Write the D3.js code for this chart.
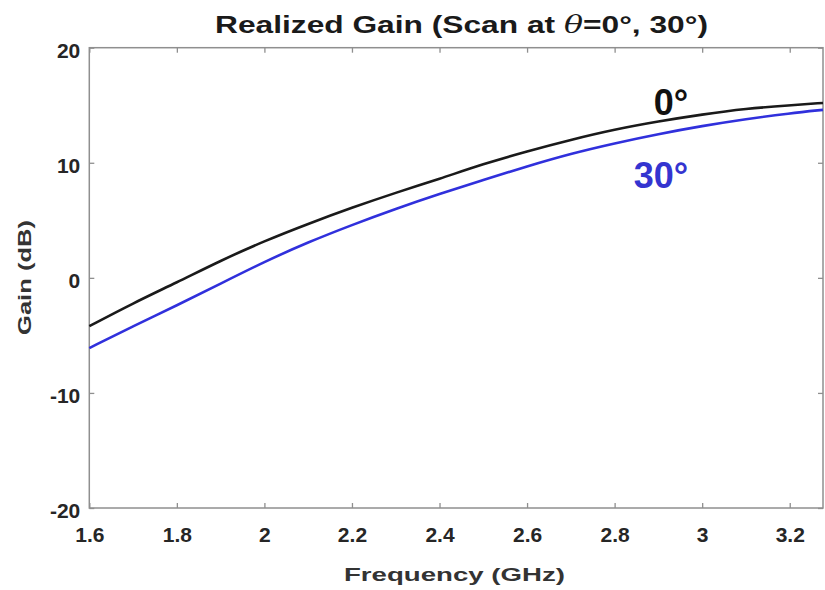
<!DOCTYPE html>
<html>
<head>
<meta charset="utf-8">
<script src="https://cdn.jsdelivr.net/npm/d3@7"></script>
<style>
  html, body { margin: 0; padding: 0; background: #fff; }
  svg { display: block; }
  text { font-family: "Liberation Sans", Arial, sans-serif; }
</style>
</head>
<body>
<svg id="chart" width="825" height="590"></svg>
<script>
// ---- data ----
const freq      = [1.6, 1.7, 1.8, 1.9, 2.0, 2.1, 2.2, 2.3, 2.4, 2.5, 2.6, 2.7, 2.8, 2.9, 3.0, 3.1, 3.2, 3.276];
const gain0deg  = [-4.2, -2.2, -0.4, 1.5, 3.2, 4.7, 6.1, 7.4, 8.6, 9.9, 11.0, 12.0, 12.9, 13.6, 14.2, 14.7, 15.0, 15.2];
const gain30deg = [-6.1, -4.2, -2.4, -0.5, 1.4, 3.1, 4.6, 6.0, 7.3, 8.5, 9.7, 10.8, 11.7, 12.5, 13.2, 13.8, 14.3, 14.6];
const xTicks = [1.6, 1.8, 2.0, 2.2, 2.4, 2.6, 2.8, 3.0, 3.2];
const xTickLabels = ["1.6", "1.8", "2", "2.2", "2.4", "2.6", "2.8", "3", "3.2"];
const yTicks = [-20, -10, 0, 10, 20];
const yTickLabels = ["-20", "-10", "0", "10", "20"];
const xDomain = [1.6, 3.276];
const yDomain = [-20, 20];
const xLabel = "Frequency (GHz)";
const yLabel = "Gain (dB)";
const seriesNames = ["0\u00B0", "30\u00B0"];

// ---- layout ----
const svg = d3.select("#chart");
const L = 89.3, R = 823, T = 47.7, B = 508;
const x = d3.scaleLinear().domain(xDomain).range([L, R]);
const y = d3.scaleLinear().domain(yDomain).range([B, T]);
const axisColor = "#8f8f8f";

// box
svg.append("rect").attr("x", L).attr("y", T).attr("width", R - L).attr("height", B - T)
  .attr("fill", "none").attr("stroke", axisColor).attr("stroke-width", 1.5);

function styleAxis(g) {
  g.select(".domain").remove();
  g.selectAll(".tick line").attr("stroke", axisColor).attr("stroke-width", 1.3);
  g.selectAll(".tick text").attr("fill", "#262626").attr("font-size", 21).attr("font-weight", "bold");
}

const xAxis = svg.append("g").attr("transform", `translate(0,${B})`)
  .call(d3.axisBottom(x).tickValues(xTicks).tickFormat((d, i) => xTickLabels[i])
        .tickSizeInner(-5).tickSizeOuter(0).tickPadding(19));
styleAxis(xAxis);
const xAxisTop = svg.append("g").attr("transform", `translate(0,${T})`)
  .call(d3.axisTop(x).tickValues(xTicks).tickFormat("").tickSizeInner(-5).tickSizeOuter(0));
styleAxis(xAxisTop);

const yAxis = svg.append("g").attr("transform", `translate(${L},0)`)
  .call(d3.axisLeft(y).tickValues(yTicks).tickFormat((d, i) => yTickLabels[i])
        .tickSizeInner(-5).tickSizeOuter(0).tickPadding(9));
styleAxis(yAxis);
yAxis.selectAll(".tick text").attr("dy", "0.47em");
const yAxisRight = svg.append("g").attr("transform", `translate(${R},0)`)
  .call(d3.axisRight(y).tickValues(yTicks).tickFormat("").tickSizeInner(-5).tickSizeOuter(0));
styleAxis(yAxisRight);

// ---- lines ----
const line = d3.line().curve(d3.curveBasis);
const plot = svg.append("g");
plot.append("path")
  .attr("d", line(freq.map((f, i) => [x(f), y(gain0deg[i])])))
  .attr("fill", "none").attr("stroke", "#1a1a1a").attr("stroke-width", 2.6);
plot.append("path")
  .attr("d", line(freq.map((f, i) => [x(f), y(gain30deg[i])])))
  .attr("fill", "none").attr("stroke", "#3030dc").attr("stroke-width", 2.6);

// ---- series labels ----
svg.append("text").attr("x", 671).attr("y", 115).attr("text-anchor", "middle")
  .attr("font-family", "'Open Sans', sans-serif").attr("font-weight", 600).attr("font-size", 36)
  .attr("fill", "#111").text(seriesNames[0]);
svg.append("text").attr("x", 661).attr("y", 188).attr("text-anchor", "middle")
  .attr("font-family", "'Open Sans', sans-serif").attr("font-weight", 600).attr("font-size", 36)
  .attr("fill", "#3434d0").text(seriesNames[1]);

// ---- titles ----
const title = svg.append("text").attr("x", 215).attr("y", 33)
  .attr("font-size", 24).attr("font-weight", "bold").attr("fill", "#1a1a1a")
  .attr("textLength", 493).attr("lengthAdjust", "spacingAndGlyphs");
title.append("tspan").text("Realized Gain (Scan at ");
title.append("tspan").attr("font-style", "italic").attr("font-family", "'DejaVu Serif', serif").attr("font-weight", "normal").text("\u03B8");
title.append("tspan").text("=0\u00B0, 30\u00B0)");

svg.append("text").attr("x", 344).attr("y", 581)
  .attr("font-size", 19).attr("font-weight", "bold").attr("fill", "#333")
  .attr("textLength", 221).attr("lengthAdjust", "spacingAndGlyphs").text(xLabel);

svg.append("text").attr("transform", "translate(31,335) rotate(-90)")
  .attr("font-size", 18).attr("font-weight", "bold").attr("fill", "#333")
  .attr("textLength", 115).attr("lengthAdjust", "spacingAndGlyphs").text(yLabel);
</script>
</body>
</html>
